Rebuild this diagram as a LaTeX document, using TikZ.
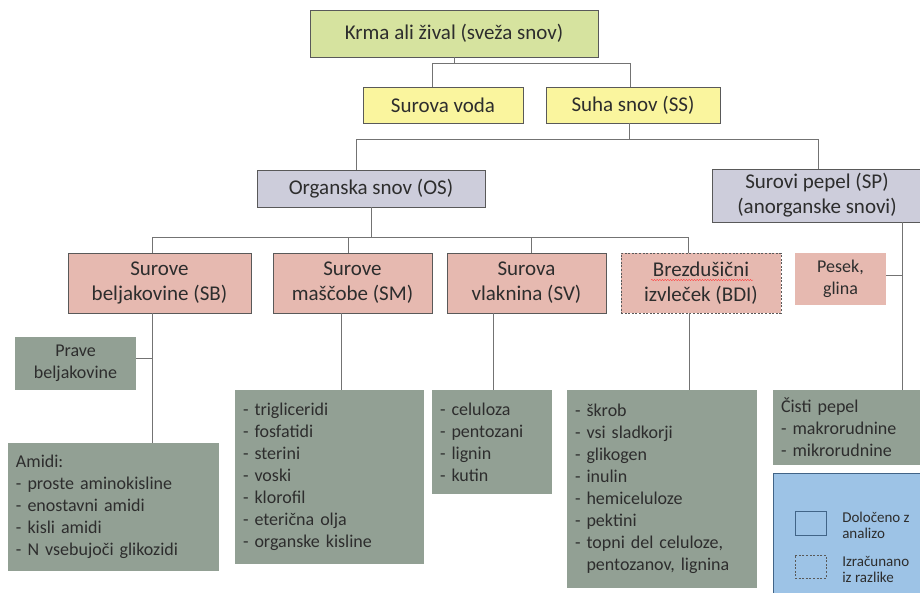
\documentclass[tikz,border=0pt]{standalone}
\usepackage{fontspec}
\setmainfont{Carlito}
\usepackage{xcolor}
\usetikzlibrary{positioning,decorations.pathmorphing}
\definecolor{krmagreen}{RGB}{214,227,159}
\definecolor{vodayellow}{RGB}{250,245,158}
\definecolor{snovgrey}{RGB}{205,205,219}
\definecolor{surpink}{RGB}{230,185,176}
\definecolor{listgreen}{RGB}{146,160,148}
\definecolor{legendblue}{RGB}{157,195,230}
\definecolor{legendedge}{RGB}{65,100,135}
\definecolor{edgegrey}{RGB}{89,89,89}
\definecolor{textgrey}{RGB}{45,45,45}
\tikzset{
    x=0.75pt, y=-0.75pt,
    titlebox/.style={
        rectangle,
        draw=edgegrey, line width=0.6pt,
        text=textgrey,
        align=center,
        inner sep=0pt,
        font={\fontsize{15.75pt}{18.75pt}\selectfont}
    },
    greenbox/.style={titlebox, fill=krmagreen},
    yellowbox/.style={titlebox, fill=vodayellow},
    greybox/.style={titlebox, fill=snovgrey},
    pinkbox/.style={titlebox, fill=surpink},
    calcbox/.style={pinkbox, dashed, dash pattern=on 1.5pt off 1.2pt},
    smallbox/.style={
        rectangle,
        text=textgrey,
        align=center,
        inner sep=0pt,
        font={\fontsize{13.5pt}{16.5pt}\selectfont}
    },
    listbox/.style={
        rectangle,
        fill=listgreen,
        text=textgrey,
        align=left,
        inner xsep=6pt, inner ysep=0pt,
        font={\fontsize{13.5pt}{16.5pt}\selectfont}
    },
    legendtext/.style={
        anchor=west, align=left, inner sep=0pt, text=textgrey,
        font={\fontsize{11.25pt}{12pt}\selectfont}
    },
    joinline/.style={draw=black!55, line width=0.6pt},
}
\begin{document}
\begin{tikzpicture}
\useasboundingbox (0,0) rectangle (920,592);
% upper levels
\node[greenbox, minimum width=216pt, minimum height=35.25pt] (krma) at (454,33.5) {Krma ali žival (sveža snov)};
\node[yellowbox, minimum width=120pt, minimum height=27pt] (voda) at (443,105) {Surova voda};
\node[yellowbox, minimum width=130.5pt, minimum height=27pt] (ss) at (633,105) {Suha snov (SS)};
\node[greybox, minimum width=171pt, minimum height=27.75pt] (os) at (371,188.5) {Organska snov (OS)};
\node[greybox, minimum width=157.5pt, minimum height=39.75pt] (sp) at (817,195.5) {Surovi pepel (SP)\\(anorganske snovi)};
% fractions
\node[pinkbox, minimum width=137.25pt, minimum height=45pt] (sb) at (159.5,283) {Surove\\beljakovine (SB)};
\node[pinkbox, minimum width=119.25pt, minimum height=45pt] (sm) at (352.5,283) {Surove\\maščobe (SM)};
\node[pinkbox, minimum width=119.25pt, minimum height=45pt] (sv) at (526.5,283) {Surova\\vlaknina (SV)};
\node[calcbox, minimum width=120pt, minimum height=45pt] (bdi) at (701,283) {Brezdušični\\izvleček (BDI)};
\node[smallbox, fill=surpink, minimum width=68.25pt, minimum height=39pt] (pesek) at (840.5,279) {Pesek,\\glina};
\draw[red!75, line width=0.3pt, decorate, decoration={snake, amplitude=0.45pt, segment length=2pt}] (651,280) -- (753,280);
% lists
\node[smallbox, fill=listgreen, minimum width=90.75pt, minimum height=39.75pt] (prave) at (75.5,363.5) {Prave\\beljakovine};
\node[listbox, text width=146.25pt, minimum height=96pt] (amidi) at (113.5,507) {Amidi:\\- proste aminokisline\\- enostavni amidi\\- kisli amidi\\- N vsebujoči glikozidi};
\node[listbox, text width=129.75pt, minimum height=130.5pt] (smlist) at (329.5,477) {- trigliceridi\\- fosfatidi\\- sterini\\- voski\\- klorofil\\- eterična olja\\- organske kisline};
\node[listbox, text width=78pt, minimum height=78pt] (svlist) at (492,442) {- celuloza\\- pentozani\\- lignin\\- kutin};
\node[listbox, text width=130.5pt, minimum height=148.5pt] (bdilist) at (662,489) {- škrob\\- vsi sladkorji\\- glikogen\\- inulin\\- hemiceluloze\\- pektini\\- topni del celuloze,\\\phantom{- }pentozanov, lignina};
\node[listbox, text width=102pt, minimum height=56.25pt] (pepel) at (849,427.5) {Čisti pepel\\- makrorudnine\\- mikrorudnine};
% legend
\node[rectangle, fill=legendblue, draw=legendedge, line width=0.6pt, minimum width=114pt, minimum height=95.25pt] (legend) at (849,536.5) {};
\node[rectangle, draw=legendedge, line width=0.6pt, minimum width=23.25pt, minimum height=18pt] (solidkey) at (810.5,523) {};
\node[rectangle, draw=edgegrey, line width=0.5pt, dashed, dash pattern=on 1.5pt off 1.2pt, minimum width=23.25pt, minimum height=17.25pt] (dashkey) at (810.5,566.5) {};
\node[legendtext] (solidtext) at (842,525) {Določeno z\\analizo};
\node[legendtext] (dashtext) at (842,569) {Izračunano\\iz razlike};
% connectors
\draw[joinline] (krma.south) -- ++(0,6) coordinate (b1);
\draw[joinline] (432,0 |- voda.north) |- (b1) -| (630,0 |- ss.north);
\draw[joinline] (629,0 |- ss.south) -- ++(0,16) coordinate (b2);
\draw[joinline] (356,0 |- os.north) |- (b2) -| (818,0 |- sp.north);
\draw[joinline] (371,0 |- os.south) -- ++(0,30) coordinate (b3);
\draw[joinline] (152,0 |- sb.north) |- (b3) -| (688,0 |- bdi.north);
\draw[joinline] (348,0 |- sm.north) -- (348,0 |- b3);
\draw[joinline] (531,0 |- sv.north) -- (531,0 |- b3);
\draw[joinline] (152,0 |- sb.south) -- (152,0 |- amidi.north);
\draw[joinline] ([yshift=3.5pt]prave.east) -- ++(16,0);
\draw[joinline] (341,0 |- sm.south) -- (341,0 |- smlist.north);
\draw[joinline] (493,0 |- sv.south) -- (493,0 |- svlist.north);
\draw[joinline] (689,0 |- bdi.south) -- (689,0 |- bdilist.north);
\draw[joinline] (902,0 |- sp.south) -- (902,0 |- pepel.north);
\draw[joinline] ([yshift=3pt]pesek.east) -- ++(16,0);
\end{tikzpicture}
\end{document}
